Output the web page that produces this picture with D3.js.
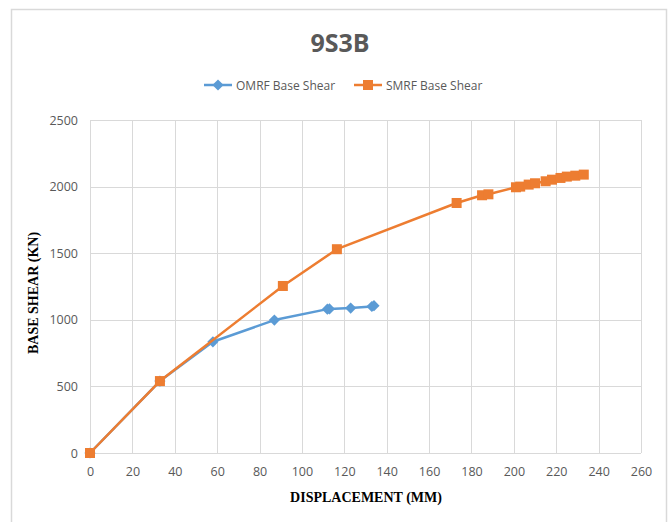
<!DOCTYPE html>
<html>
<head>
<meta charset="utf-8">
<script src="https://cdn.jsdelivr.net/npm/d3@7/dist/d3.min.js"></script>
<style>
  html, body { margin: 0; padding: 0; background: #fff; }
  svg { display: block; }
</style>
</head>
<body>
<svg id="chart" width="672" height="522"></svg>
<script>
// Pushover curves for the 9S3B frame
const omrfDisp  = [0, 33, 58, 87, 112, 113, 123, 133, 134];
const omrfShear = [0, 540, 835, 998, 1080, 1082, 1088, 1100, 1106];

const smrfDisp  = [0, 33, 91, 116.5, 173, 185, 188, 201, 203, 207, 210, 215, 218, 222, 225, 229, 233];
const smrfShear = [0, 540, 1254, 1530, 1877, 1935, 1942, 1995, 2000, 2015, 2025, 2040, 2052, 2065, 2075, 2082, 2090];

const xTicks = d3.range(0, 261, 20);
const yTicks = [0, 500, 1000, 1500, 2000, 2500];

const titleText = "9S3B";
const seriesNames = ["OMRF Base Shear", "SMRF Base Shear"];
const xTitle = "DISPLACEMENT (MM)";
const yTitle = "BASE SHEAR (KN)";

const blue = "#5B9BD5", orange = "#ED7D31", grid = "#d9d9d9", tickColor = "#595959";
const sansFont = "'Open Sans', 'DejaVu Sans', sans-serif";
const serifFont = "'Liberation Serif', 'DejaVu Serif', serif";

const svg = d3.select("#chart");
const plot = { left: 90, right: 641, top: 120, bottom: 453 };

const x = d3.scaleLinear().domain([0, 260]).range([plot.left, plot.right]);
const y = d3.scaleLinear().domain([0, 2500]).range([plot.bottom, plot.top]);

// chart frame
svg.append("path")
  .attr("d", "M11.5,522 V9.5 H666.5 V522")
  .attr("fill", "none").attr("stroke", grid).attr("stroke-width", 1.5);

// gridlines
const gx = svg.append("g");
gx.selectAll("line.v").data(xTicks).join("line")
  .attr("x1", d => Math.round(x(d)) + 0.5).attr("x2", d => Math.round(x(d)) + 0.5)
  .attr("y1", plot.top).attr("y2", plot.bottom)
  .attr("stroke", grid).attr("stroke-width", 1);
gx.selectAll("line.h").data(yTicks).join("line")
  .attr("y1", d => Math.round(y(d)) + 0.5).attr("y2", d => Math.round(y(d)) + 0.5)
  .attr("x1", plot.left).attr("x2", plot.right)
  .attr("stroke", grid).attr("stroke-width", 1);

// axes (labels only)
const xAxis = svg.append("g").attr("transform", `translate(0,${plot.bottom})`)
  .call(d3.axisBottom(x).tickValues(xTicks).tickSize(0).tickPadding(14));
const yAxis = svg.append("g").attr("transform", `translate(${plot.left},0)`)
  .call(d3.axisLeft(y).tickValues(yTicks).tickSize(0).tickPadding(12).tickFormat(d3.format("d")));
[xAxis, yAxis].forEach(a => {
  a.select(".domain").remove();
  a.selectAll("text").attr("fill", tickColor).style("font-family", sansFont).style("font-size", "12.5px");
});

// series
const line = d3.line().x(d => x(d[0])).y(d => y(d[1]));
const omrf = omrfDisp.map((d, i) => [d, omrfShear[i]]);
const smrf = smrfDisp.map((d, i) => [d, smrfShear[i]]);

const diamond = d3.symbol().type(d3.symbolDiamond2).size(80);

svg.append("path").datum(omrf).attr("d", line)
  .attr("fill", "none").attr("stroke", blue).attr("stroke-width", 2.5).attr("stroke-linejoin", "round");
svg.append("g").selectAll("path").data(omrf).join("path")
  .attr("d", diamond)
  .attr("transform", d => `translate(${x(d[0])},${y(d[1])})`)
  .attr("fill", blue);

svg.append("path").datum(smrf).attr("d", line)
  .attr("fill", "none").attr("stroke", orange).attr("stroke-width", 2.5).attr("stroke-linejoin", "round");
svg.append("g").selectAll("rect").data(smrf).join("rect")
  .attr("x", d => x(d[0]) - 5).attr("y", d => y(d[1]) - 5)
  .attr("width", 10).attr("height", 10)
  .attr("fill", orange);

// title
svg.append("text").attr("x", 340).attr("y", 52).attr("text-anchor", "middle")
  .attr("fill", tickColor).style("font-family", "'Open Sans', 'DejaVu Sans', sans-serif")
  .style("font-size", "25px").style("font-weight", "bold").text(titleText);

// legend
const legend = [
  { name: seriesNames[0], color: blue, x0: 204, marker: "diamond" },
  { name: seriesNames[1], color: orange, x0: 354, marker: "square" }
];
legend.forEach(l => {
  const g = svg.append("g").attr("transform", `translate(${l.x0},85)`);
  g.append("line").attr("x1", 0).attr("x2", 28).attr("stroke", l.color).attr("stroke-width", 2.5);
  if (l.marker === "diamond") {
    g.append("path").attr("d", diamond).attr("transform", "translate(14,0)").attr("fill", l.color);
  } else {
    g.append("rect").attr("x", 9).attr("y", -5).attr("width", 10).attr("height", 10).attr("fill", l.color);
  }
  g.append("text").attr("x", 32).attr("y", 4.5).attr("fill", tickColor)
    .style("font-family", sansFont).style("font-size", "12px").text(l.name);
});

// axis titles
svg.append("text").attr("x", 366).attr("y", 502).attr("text-anchor", "middle")
  .attr("fill", "#000").style("font-family", serifFont).style("font-size", "14px")
  .style("font-weight", "bold").text(xTitle);
svg.append("text").attr("transform", "translate(38,293) rotate(-90)").attr("text-anchor", "middle")
  .attr("fill", "#000").style("font-family", serifFont).style("font-size", "14px")
  .style("font-weight", "bold").text(yTitle);
</script>
</body>
</html>
